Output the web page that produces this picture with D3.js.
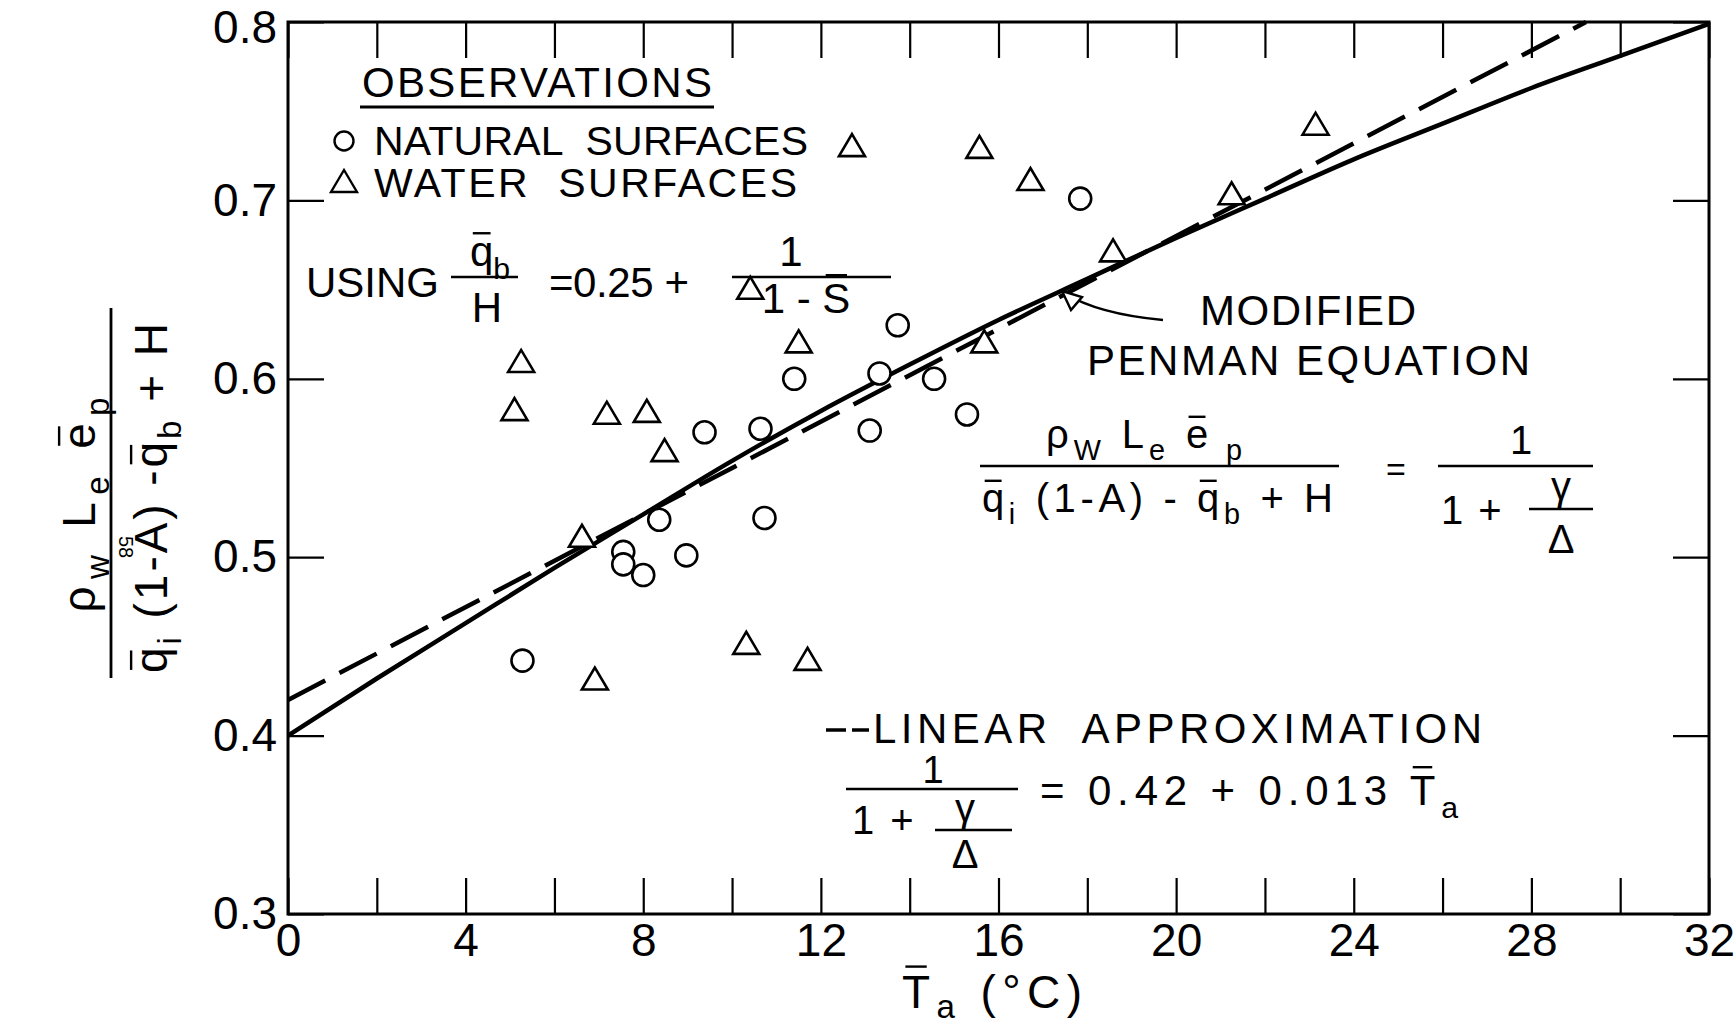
<!DOCTYPE html>
<html>
<head>
<meta charset="utf-8">
<script src="https://cdn.jsdelivr.net/npm/d3@7"></script>
<style>
  html, body { margin: 0; padding: 0; background: #fff; }
  svg { display: block; font-family: "Liberation Sans", Arial, sans-serif; }
  text { fill: #000; }
</style>
</head>
<body>
<svg id="chart" width="1735" height="1034"></svg>
<script>
// Evaporation ratio against mean air temperature (°C)

// Observations over natural surfaces: [T_a, ratio]
const naturalSurfaces = [
  [5.28, 0.442], [7.55, 0.503], [7.55, 0.496], [8.00, 0.490], [8.36, 0.521],
  [8.97, 0.501], [9.38, 0.570], [10.64, 0.572], [10.73, 0.522], [11.40, 0.600],
  [13.10, 0.571], [13.32, 0.603], [13.73, 0.630], [14.55, 0.600], [15.29, 0.580],
  [17.84, 0.701]
];

// Observations over water surfaces: [T_a, ratio]
const waterSurfaces = [
  [5.10, 0.583], [5.25, 0.610], [6.62, 0.512], [6.91, 0.432], [7.18, 0.581],
  [8.08, 0.582], [8.48, 0.560], [10.32, 0.452], [10.41, 0.651], [11.50, 0.621],
  [11.70, 0.443], [12.70, 0.731], [15.57, 0.730], [15.68, 0.621], [16.72, 0.712],
  [18.58, 0.672], [21.25, 0.704], [23.14, 0.743]
];

// Modified Penman equation, 1 / (1 + gamma/Delta)
const penmanCurve = [
  [0, 0.400], [2, 0.432], [4, 0.463], [6, 0.494], [8, 0.524], [10, 0.554],
  [12, 0.582], [14, 0.608], [16, 0.633], [18, 0.656], [20, 0.679], [22, 0.701],
  [24, 0.723], [26, 0.743], [28, 0.763], [30, 0.781], [32, 0.799]
];

// Linear approximation 0.42 + 0.013 T_a, end points inside the frame
const linearApprox = [[0, 0.42], [29.23, 0.80]];

// Axis ticks
const xTicks = [0, 2, 4, 6, 8, 10, 12, 14, 16, 18, 20, 22, 24, 26, 28, 30, 32];
const xTickLabels = [0, 4, 8, 12, 16, 20, 24, 28, 32];
const yTicks = [0.3, 0.4, 0.5, 0.6, 0.7, 0.8];

const svg = d3.select("#chart");
const plotLeft = 288, plotRight = 1709, plotTop = 22, plotBottom = 914;

const x = d3.scaleLinear().domain([0, 32]).range([plotLeft, plotRight]);
const y = d3.scaleLinear().domain([0.3, 0.8]).range([plotBottom, plotTop]);

const tickLen = 36;

function styleAxis(g) {
  g.select(".domain").remove();
  g.selectAll(".tick line").attr("stroke", "#000").attr("stroke-width", 2.2);
  g.selectAll(".tick text").attr("fill", "#000")
    .attr("font-family", '"Liberation Sans", Arial, sans-serif')
    .attr("font-size", 46);
}

// bottom axis with labels every 4 degrees
svg.append("g")
  .attr("transform", `translate(0,${plotBottom})`)
  .call(d3.axisBottom(x).tickValues(xTicks).tickSize(-tickLen).tickPadding(9)
    .tickFormat(d => xTickLabels.includes(d) ? d : ""))
  .call(styleAxis);

// top axis, ticks only
svg.append("g")
  .attr("transform", `translate(0,${plotTop})`)
  .call(d3.axisTop(x).tickValues(xTicks).tickSize(-tickLen).tickFormat(""))
  .call(styleAxis);

// left axis
svg.append("g")
  .attr("transform", `translate(${plotLeft},0)`)
  .call(d3.axisLeft(y).tickValues(yTicks).tickSize(-tickLen).tickPadding(11)
    .tickFormat(d3.format(".1f")))
  .call(styleAxis)
  .call(g => g.selectAll(".tick text").filter(d => d === 0.8).attr("dy", "0.45em"));

// right axis, ticks only
svg.append("g")
  .attr("transform", `translate(${plotRight},0)`)
  .call(d3.axisRight(y).tickValues(yTicks).tickSize(-tickLen).tickFormat(""))
  .call(styleAxis);

// frame
svg.append("rect")
  .attr("x", plotLeft).attr("y", plotTop)
  .attr("width", plotRight - plotLeft).attr("height", plotBottom - plotTop)
  .attr("fill", "none").attr("stroke", "#000").attr("stroke-width", 3);

// curves
const line = d3.line().x(d => x(d[0])).y(d => y(d[1]));

svg.append("path")
  .datum(linearApprox)
  .attr("d", line)
  .attr("fill", "none").attr("stroke", "#000")
  .attr("stroke-width", 4.5).attr("stroke-dasharray", "42 16");

svg.append("path")
  .datum(penmanCurve)
  .attr("d", line.curve(d3.curveMonotoneX))
  .attr("fill", "none").attr("stroke", "#000").attr("stroke-width", 4.5);

// observation markers
const triPath = "M-13,11 L13,11 L0,-11 Z";

svg.append("g").selectAll("circle")
  .data(naturalSurfaces)
  .join("circle")
  .attr("cx", d => x(d[0])).attr("cy", d => y(d[1])).attr("r", 11)
  .attr("fill", "#fff").attr("stroke", "#000").attr("stroke-width", 2.6);

svg.append("g").selectAll("path")
  .data(waterSurfaces)
  .join("path")
  .attr("transform", d => `translate(${x(d[0])},${y(d[1])})`)
  .attr("d", triPath)
  .attr("fill", "#fff").attr("stroke", "#000").attr("stroke-width", 2.6)
  .attr("stroke-linejoin", "miter");

// --- text helpers -------------------------------------------------------
function rule(parent, x1, y1, x2, y2, w) {
  parent.append("line")
    .attr("x1", x1).attr("y1", y1).attr("x2", x2).attr("y2", y2)
    .attr("stroke", "#000").attr("stroke-width", w || 2.6);
}

function mathText(parent, o) {
  const fs = o.fs;
  const subShift = fs * (o.subShift || 0.3);
  const t = parent.append("text")
    .attr("x", o.x).attr("y", o.y)
    .attr("font-size", fs)
    .attr("text-anchor", o.anchor || "start")
    .style("white-space", "pre");
  if (o.textLength) t.attr("textLength", o.textLength).attr("lengthAdjust", "spacing");
  let cur = 0;
  o.parts.forEach(p => {
    const sh = p.sub ? subShift : 0;
    const s = t.append("tspan").text(p.t).attr("dy", sh - cur);
    if (p.sub) s.attr("font-size", fs * 0.72);
    cur = sh;
  });
  const node = t.node();
  let idx = 0;
  o.parts.forEach(p => {
    if (p.bar) {
      let e = null;
      try { e = node.getExtentOfChar(idx + p.t.length - 1); } catch (err) { e = null; }
      if (e) {
        const pfs = p.sub ? fs * 0.72 : fs;
        const by = o.y + (p.sub ? subShift : 0) - pfs * (p.barH || 0.88);
        rule(parent, e.x + e.width * 0.12, by, e.x + e.width * 0.88, by, 2.4);
      }
    }
    idx += p.t.length;
  });
  return t;
}

function plain(parent, x, yy, str, fs, anchor, len) {
  const t = parent.append("text").attr("x", x).attr("y", yy)
    .attr("font-size", fs).attr("text-anchor", anchor || "start")
    .style("white-space", "pre").text(str);
  if (len) t.attr("textLength", len).attr("lengthAdjust", "spacing");
  return t;
}

const notes = svg.append("g");

// legend
plain(notes, 362, 97, "OBSERVATIONS", 42, "start", 350);
rule(notes, 360, 107, 714, 107, 3);
notes.append("circle").attr("cx", 344).attr("cy", 141).attr("r", 9.5)
  .attr("fill", "#fff").attr("stroke", "#000").attr("stroke-width", 2.4);
plain(notes, 374, 155, "NATURAL  SURFACES", 41, "start", 434);
notes.append("path").attr("transform", "translate(344,181)").attr("d", triPath)
  .attr("fill", "none").attr("stroke", "#000").attr("stroke-width", 2.4);
plain(notes, 374, 197, "WATER  SURFACES", 41, "start", 423);

// back-radiation assumption
plain(notes, 306, 297, "USING", 42);
mathText(notes, { x: 470, y: 266, fs: 42, parts: [{ t: "q", bar: true, barH: 0.78 }, { t: "b", sub: true }] });
rule(notes, 451, 277, 518, 277);
plain(notes, 487, 322, "H", 42, "middle");
plain(notes, 549, 297, "=0.25 +", 42, "start", 140);
plain(notes, 791, 266, "1", 42, "middle");
rule(notes, 732, 277, 891, 277);
mathText(notes, { x: 806, y: 313, fs: 42, anchor: "middle",
  parts: [{ t: "1 - " }, { t: "S", bar: true, barH: 0.9 }] });

// modified Penman label with pointer
plain(notes, 1200, 325, "MODIFIED", 42, "start", 216);
plain(notes, 1087, 375, "PENMAN EQUATION", 42, "start", 443);
notes.append("path")
  .attr("d", "M1163,320 Q1098,314 1064,293")
  .attr("fill", "none").attr("stroke", "#000").attr("stroke-width", 2.6);
notes.append("path")
  .attr("d", "M1062,291 L1082,297 L1071,310 Z")
  .attr("fill", "#fff").attr("stroke", "#000").attr("stroke-width", 2.4);

// Penman ratio equation
mathText(notes, { x: 1046, y: 448, fs: 40, textLength: 196,
  parts: [{ t: "ρ" }, { t: "W", sub: true }, { t: " L" }, { t: "e", sub: true },
          { t: " e", bar: true, barH: 0.78 }, { t: " p", sub: true }] });
rule(notes, 980, 466, 1339, 466);
mathText(notes, { x: 982, y: 512, fs: 40, textLength: 351,
  parts: [{ t: "q", bar: true, barH: 0.78 }, { t: "i", sub: true }, { t: " (1-A) - " },
          { t: "q", bar: true, barH: 0.78 }, { t: "b", sub: true }, { t: " + H" }] });
plain(notes, 1396, 481, "=", 34, "middle");
plain(notes, 1521, 454, "1", 40, "middle");
rule(notes, 1438, 466, 1593, 466);
plain(notes, 1452, 524, "1", 40, "middle");
plain(notes, 1490, 524, "+", 40, "middle");
plain(notes, 1561, 500, "γ", 40, "middle");
rule(notes, 1529, 509, 1593, 509);
plain(notes, 1561, 553, "Δ", 40, "middle");

// linear approximation label
rule(notes, 826, 730, 846, 730, 3.5);
rule(notes, 852, 730, 869, 730, 3.5);
plain(notes, 873, 743, "LINEAR  APPROXIMATION", 42, "start", 609);
plain(notes, 933, 783, "1", 38, "middle");
rule(notes, 846, 789, 1018, 789);
plain(notes, 863, 834, "1", 40, "middle");
plain(notes, 902, 834, "+", 40, "middle");
plain(notes, 965, 822, "γ", 40, "middle");
rule(notes, 935, 830, 1012, 830);
plain(notes, 965, 868, "Δ", 40, "middle");
mathText(notes, { x: 1040, y: 805, fs: 42, textLength: 418,
  parts: [{ t: "= 0.42 + 0.013 " }, { t: "T", bar: true, barH: 0.9 }, { t: "a", sub: true }] });

// x-axis title
mathText(svg, { x: 902, y: 1008, fs: 46, textLength: 180, subShift: 0.22,
  parts: [{ t: "T", bar: true, barH: 0.9 }, { t: "a", sub: true }, { t: " (°C)" }] });

// y-axis title: a fraction set vertically
const yt = svg.append("g").attr("transform", "translate(111,493) rotate(-90)");
rule(yt, -185, 0, 185, 0, 2.8);
mathText(yt, { x: -12, y: -16, fs: 46, anchor: "middle", textLength: 215,
  parts: [{ t: "ρ" }, { t: "w", sub: true }, { t: " L" }, { t: "e", sub: true },
          { t: " e", bar: true, barH: 0.78 }, { t: "p", sub: true }] });
mathText(yt, { x: -5, y: 56, fs: 46, anchor: "middle", textLength: 350,
  parts: [{ t: "q", bar: true, barH: 0.78 }, { t: "i", sub: true }, { t: " (1-A) -" },
          { t: "q", bar: true, barH: 0.78 }, { t: "b", sub: true }, { t: " + H" }] });

// page number
svg.append("text").attr("transform", "translate(119,547) rotate(90)")
  .attr("font-size", 20).attr("text-anchor", "middle").text("58");
</script>
</body>
</html>
